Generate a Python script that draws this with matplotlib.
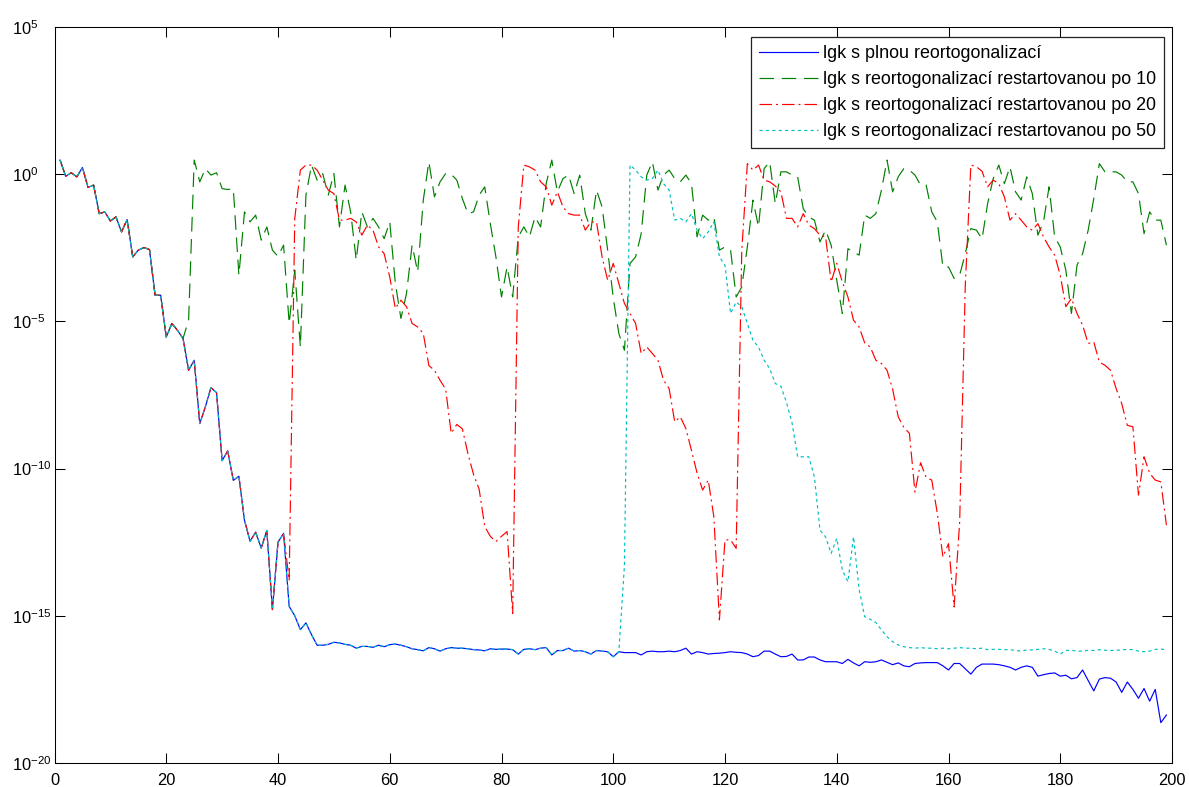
import numpy as np
import matplotlib
matplotlib.use('Agg')
import matplotlib.pyplot as plt

plt.rcParams['font.family'] = ['Liberation Sans', 'DejaVu Sans']
plt.rcParams['mathtext.fontset'] = 'custom'
plt.rcParams['mathtext.rm'] = 'Liberation Sans'
plt.rcParams['mathtext.it'] = 'Liberation Sans:italic'
plt.rcParams['mathtext.default'] = 'regular'
plt.rcParams['lines.scale_dashes'] = False

# ---------------- data (log10 of the plotted error values) ----------------
iterations = np.arange(1, 200)

full_reorth_log10 = [
    0.48, -0.07, 0.05, -0.09, 0.23, -0.45, -0.37, -1.34, -1.28, -1.59,
    -1.45, -1.96, -1.54, -2.81, -2.58, -2.49, -2.56, -4.11, -4.11, -5.53,
    -5.07, -5.3, -5.58, -6.66, -6.32, -8.47, -7.9, -7.25, -7.42, -9.73,
    -9.4, -10.4, -10.26, -11.75, -12.47, -12.16, -12.7, -12.1, -14.79, -12.5,
    -12.2, -14.68, -15.0, -15.47, -15.24, -15.64, -16.0, -16.0, -15.97, -15.9,
    -15.92, -15.97, -16.0, -16.1, -16.04, -16.04, -16.07, -16.0, -16.05, -15.98,
    -15.96, -16.0, -16.05, -16.12, -16.15, -16.19, -16.08, -16.12, -16.2, -16.12,
    -16.08, -16.1, -16.1, -16.12, -16.15, -16.16, -16.19, -16.12, -16.14, -16.13,
    -16.13, -16.15, -16.3, -16.14, -16.12, -16.15, -16.1, -16.08, -16.33, -16.18,
    -16.18, -16.1, -16.2, -16.18, -16.22, -16.3, -16.18, -16.2, -16.22, -16.39,
    -16.22, -16.25, -16.25, -16.25, -16.33, -16.22, -16.2, -16.22, -16.22, -16.2,
    -16.22, -16.18, -16.1, -16.3, -16.22, -16.25, -16.3, -16.28, -16.27, -16.25,
    -16.22, -16.24, -16.25, -16.3, -16.39, -16.35, -16.2, -16.2, -16.3, -16.39,
    -16.38, -16.3, -16.5, -16.5, -16.4, -16.4, -16.5, -16.56, -16.56, -16.56,
    -16.62, -16.48, -16.6, -16.7, -16.56, -16.58, -16.56, -16.5, -16.58, -16.66,
    -16.6, -16.7, -16.73, -16.62, -16.6, -16.59, -16.59, -16.59, -16.7, -16.84,
    -16.62, -16.62, -16.8, -16.98, -16.75, -16.64, -16.64, -16.64, -16.66, -16.7,
    -16.75, -16.84, -16.75, -16.7, -16.75, -17.05, -17.0, -16.96, -16.94, -17.05,
    -17.02, -17.14, -17.1, -16.84, -17.2, -17.55, -17.15, -17.1, -17.12, -17.25,
    -17.6, -17.25, -17.5, -17.8, -17.47, -17.9, -17.5, -18.63, -18.37,
]

# restarted every 10: identical to full reorth. up to iteration 23, then these (iter 24..199)
restart10_first_own = 24
restart10_log10_tail = [
    -4.96, 0.48, -0.26, 0.19, -0.03, 0.05, -0.49,
    -0.52, -0.49, -3.43, -1.28, -1.62, -1.39, -2.24, -1.79, -2.58, -2.79,
    -2.41, -5.07, -3.26, -5.87, -0.7, 0.31, -0.2, 0.02, -0.71, 0.02,
    -1.79, -0.37, -1.28, -2.92, -1.28, -1.79, -1.5, -1.79, -2.19, -1.62,
    -3.71, -4.9, -4.05, -2.41, -3.32, -0.88, 0.42, -0.77, -0.26, 0.02,
    0.0, -0.2, -0.83, -1.34, -1.28, -0.71, -0.43, -1.68, -2.81, -4.17,
    -3.15, -4.17, -2.13, -1.79, -2.13, -1.45, -1.79, -0.32, 0.48, -0.6,
    -0.15, -0.03, -0.66, -0.03, -1.34, -1.9, -0.54, -1.11, -2.58, -4.2,
    -5.41, -5.98, -3.03, -2.81, -2.02, -0.03, 0.42, -0.54, -0.03, 0.14,
    -0.15, -0.26, -0.03, -0.32, -2.13, -1.39, -1.56, -1.45, -2.58, -2.47,
    -2.58, -4.17, -3.83, -2.47, -0.88, -1.79, 0.19, 0.42, -1.0, 0.08,
    0.08, -0.03, -0.09, -1.17, -1.45, -1.56, -2.3, -1.9, -2.41, -3.6,
    -4.73, -2.53, -2.64, -2.75, -1.39, -1.5, -1.34, -0.54, 0.48, -0.6,
    -0.09, 0.19, 0.14, -0.03, -0.37, -0.37, -1.28, -1.62, -3.15, -3.15,
    -3.54, -3.43, -2.7, -1.85, -1.9, -2.2, -1.0, -0.15, 0.31, -0.32,
    0.25, -0.6, -0.88, -0.09, -0.66, -2.07, -1.62, -0.43, -2.13, -2.47,
    -3.26, -4.73, -3.09, -2.7, -1.9, -0.83, 0.36, 0.08, 0.08, 0.08,
    -0.03, -0.26, -0.26, -0.66, -2.02, -1.28, -1.56, -1.56, -2.41,
]

# restarted every 20: identical up to iteration 41, then these (iter 42..199)
restart20_first_own = 42
restart20_log10_tail = [
    -13.8, -1.5, 0.14, 0.31, 0.31, 0.14, -0.2, -0.54, -0.66,
    -1.56, -1.56, -1.5, -1.62, -2.07, -1.73, -1.9, -2.47, -2.7, -3.49,
    -4.56, -4.28, -4.5, -5.07, -5.19, -5.41, -6.5, -6.66, -7.0, -7.3,
    -8.8, -8.5, -8.65, -9.5, -10.2, -10.7, -11.97, -12.3, -12.48, -12.3,
    -12.14, -14.92, -1.8, 0.31, 0.25, 0.14, -0.26, -0.43, -1.05, -0.6,
    -1.11, -1.34, -1.39, -1.39, -1.9, -1.62, -1.62, -2.81, -3.6, -3.03,
    -3.71, -4.39, -4.73, -5.07, -6.09, -5.87, -6.09, -6.32, -7.0, -7.28,
    -8.41, -8.24, -8.64, -9.38, -10.15, -10.73, -10.39, -11.63, -15.14, -12.42,
    -12.42, -12.71, -2.6, 0.36, 0.14, 0.31, -0.2, -0.26, -0.4, -0.6,
    -1.5, -1.5, -1.79, -1.34, -1.73, -1.85, -2.07, -2.13, -3.66, -3.03,
    -3.66, -4.17, -4.96, -5.19, -5.73, -5.87, -6.32, -6.43, -6.66, -7.3,
    -8.24, -8.6, -8.8, -10.8, -9.8, -10.3, -10.39, -11.52, -13.0, -12.55,
    -14.7, -11.8, -3.8, 0.31, 0.25, 0.1, -0.43, -0.2, -0.32, -0.77,
    -1.56, -1.34, -1.56, -1.79, -1.9, -1.68, -2.13, -2.47, -2.75, -3.43,
    -4.5, -4.22, -4.73, -5.13, -5.75, -5.7, -6.38, -6.49, -6.66, -7.28,
    -7.79, -8.53, -8.58, -10.9, -9.6, -10.16, -10.39, -10.45, -11.92,
]

# restarted every 50: identical up to iteration 101, then these (iter 102..199)
restart50_first_own = 102
restart50_log10_tail = [
    -13.3, 0.31, 0.14, -0.09, -0.2, -0.15, 0.14, -0.32, -0.54,
    -1.56, -1.5, -1.62, -1.34, -1.9, -2.19, -1.96, -1.62, -2.81, -3.09,
    -4.73, -4.34, -4.5, -5.07, -5.64, -5.87, -6.32, -6.6, -7.11, -7.2,
    -7.75, -8.45, -9.6, -9.6, -9.6, -10.28, -12.09, -12.32, -12.88, -12.37,
    -13.45, -13.84, -12.32, -14.1, -15.03, -15.12, -15.23, -15.48, -15.71, -15.88,
    -15.99, -16.05, -16.08, -16.1, -16.08, -16.1, -16.1, -16.12, -16.1, -16.12,
    -16.1, -16.08, -16.1, -16.1, -16.12, -16.1, -16.15, -16.14, -16.14, -16.15,
    -16.15, -16.18, -16.2, -16.16, -16.16, -16.14, -16.12, -16.14, -16.2, -16.3,
    -16.18, -16.17, -16.2, -16.2, -16.17, -16.18, -16.15, -16.17, -16.18, -16.17,
    -16.16, -16.14, -16.15, -16.2, -16.22, -16.2, -16.14, -16.13, -16.15,
]

series_labels = [
    'lgk s plnou reortogonalizací',
    'lgk s reortogonalizací restartovanou po 10',
    'lgk s reortogonalizací restartovanou po 20',
    'lgk s reortogonalizací restartovanou po 50',
]
x_ticks = [0, 20, 40, 60, 80, 100, 120, 140, 160, 180, 200]
y_tick_exponents = [5, 0, -5, -10, -15, -20]

# ---------------- assemble series ----------------
full = np.array(full_reorth_log10)


def with_shared_start(first_own, tail):
    return np.concatenate([full[:first_own - 1], np.array(tail)])


r10 = with_shared_start(restart10_first_own, restart10_log10_tail)
r20 = with_shared_start(restart20_first_own, restart20_log10_tail)
r50 = with_shared_start(restart50_first_own, restart50_log10_tail)

# ---------------- figure ----------------
W, H = 1189, 787
fig = plt.figure(figsize=(W / 100, H / 100), dpi=100)
left, right, top, bottom = 54.5, 1172, 27, 763
ax = fig.add_axes([left / W, 1 - bottom / H, (right - left) / W, (bottom - top) / H])

lw = 0.85
ax.semilogy(iterations, 10.0 ** full, color=(0, 0, 1), lw=lw, ls='-', label=series_labels[0])
l10, = ax.semilogy(iterations, 10.0 ** r10, color=(0, 0.5, 0), lw=lw, label=series_labels[1])
l10.set_dashes((10.5, 5.5))
l20, = ax.semilogy(iterations, 10.0 ** r20, color=(1, 0, 0), lw=lw, label=series_labels[2])
l20.set_dashes((9.0, 2.9, 1.4, 2.9))
l50, = ax.semilogy(iterations, 10.0 ** r50, color=(0, 0.75, 0.75), lw=lw, label=series_labels[3])
l50.set_dashes((2.3, 2.3))

ax.set_xlim(0, 200)
ax.set_ylim(1e-20, 1e5)
ax.set_xticks(x_ticks)
ax.set_xticklabels([str(t) for t in x_ticks])
ax.set_yticks([10.0 ** e for e in y_tick_exponents])
ax.set_yticklabels([r'$10^{%d}$' % e for e in y_tick_exponents])
ax.minorticks_off()

for s in ax.spines.values():
    s.set_linewidth(0.75)
    s.set_color('black')
ax.tick_params(axis='both', which='major', direction='in', length=7.2, width=0.75,
               top=True, right=True, labelsize=11.8, colors='black')
ax.tick_params(axis='x', pad=7)
# labels start at ~12 px from the left edge, like the reference
ax.tick_params(axis='y', pad=(left - 12) * 0.72)
for lab in ax.get_yticklabels():
    lab.set_horizontalalignment('left')

leg = ax.legend(loc='upper right', bbox_to_anchor=(1164 / W, 1 - 37 / H),
                bbox_transform=fig.transFigure, borderaxespad=0.0,
                fontsize=12.9, handlelength=3.3, handletextpad=0.25,
                labelspacing=0.5, borderpad=0.45, fancybox=False,
                framealpha=1.0, edgecolor='#222222')
leg.get_frame().set_linewidth(0.9)

fig.savefig('out.png', dpi=100)
